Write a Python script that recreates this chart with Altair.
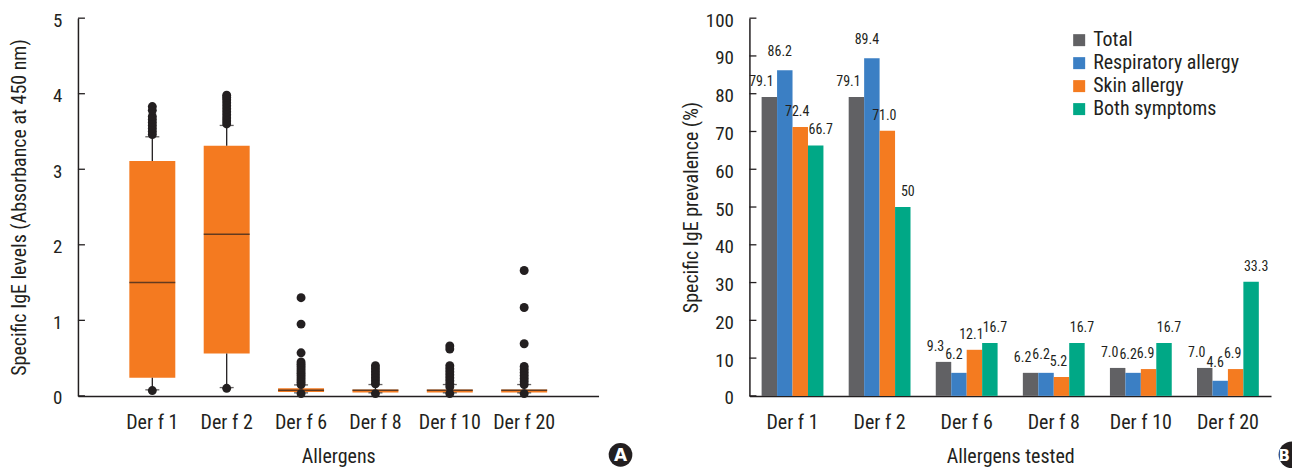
import math
import altair as alt
import pandas as pd

FONT = "'Roboto Condensed', 'Liberation Sans Narrow', 'Roboto', sans-serif"
INK = "#231f20"

allergens = ["Der f 1", "Der f 2", "Der f 6", "Der f 8", "Der f 10", "Der f 20"]

# ---- Panel A: box statistics (absorbance at 450 nm) ----
box_q1 = [0.24, 0.56, 0.05, 0.045, 0.045, 0.045]
box_q3 = [3.11, 3.31, 0.10, 0.085, 0.085, 0.085]
box_median = [1.50, 2.14, 0.075, 0.075, 0.075, 0.075]
whisker_low = [0.08, 0.11, 0.04, 0.04, 0.04, 0.04]
whisker_high = [3.43, 3.58, 0.145, 0.15, 0.15, 0.15]

out_f1 = [0.07, 3.46, 3.50, 3.54, 3.58, 3.62, 3.66, 3.70, 3.78, 3.83]
out_f2 = [0.10, 3.60, 3.64, 3.68, 3.72, 3.76, 3.80, 3.84, 3.88, 3.92, 3.95, 3.98]
out_f6 = [1.30, 0.95, 0.57, 0.45, 0.42, 0.39, 0.36, 0.33, 0.30, 0.27, 0.24, 0.21, 0.18, 0.15, 0.03]
out_f8 = [0.40, 0.36, 0.32, 0.28, 0.24, 0.20, 0.16, 0.03]
out_f10 = [0.66, 0.62, 0.40, 0.36, 0.32, 0.28, 0.24, 0.20, 0.16, 0.12, 0.03]
out_f20 = [1.66, 1.17, 0.69, 0.39, 0.35, 0.31, 0.27, 0.23, 0.19, 0.15, 0.03]

a_ticks = [0, 1, 2, 3, 4, 5]

# ---- Panel B: specific IgE prevalence (%) ----
series = ["Total", "Respiratory allergy", "Skin allergy", "Both symptoms"]
series_colors = ["#616164", "#3b7fc4", "#f47b20", "#00a886"]

total_pct = [79.1, 79.1, 9.0, 6.1, 7.4, 7.4]
resp_pct = [86.2, 89.4, 6.1, 6.1, 6.1, 4.0]
skin_pct = [71.2, 70.2, 12.2, 5.0, 7.1, 7.1]
both_pct = [66.3, 50.0, 14.0, 14.0, 14.0, 30.2]

total_lbl = ["79.1", "79.1", "9.3", "6.2", "7.0", "7.0"]
resp_lbl = ["86.2", "89.4", "6.2", "6.2", "6.2", "4.6"]
skin_lbl = ["72.4", "71.0", "12.1", "5.2", "6.9", "6.9"]
both_lbl = ["66.7", "50", "16.7", "16.7", "16.7", "33.3"]

b_ticks = [0, 10, 20, 30, 40, 50, 60, 70, 80, 90, 100]

# ---- tables ----
box_df = pd.DataFrame({
    "allergen": allergens, "q1": box_q1, "q3": box_q3, "med": box_median,
    "lo": whisker_low, "hi": whisker_high,
})
out_lists = [out_f1, out_f2, out_f6, out_f8, out_f10, out_f20]
out_df = pd.DataFrame(
    [{"allergen": a, "v": v} for a, vals in zip(allergens, out_lists) for v in vals]
)
a_tick_df = pd.DataFrame({"v": a_ticks})
b_tick_df = pd.DataFrame({"v": b_ticks})

rows = []
for s, vals, lbls in zip(series, [total_pct, resp_pct, skin_pct, both_pct],
                         [total_lbl, resp_lbl, skin_lbl, both_lbl]):
    for a, v, l in zip(allergens, vals, lbls):
        rows.append({"allergen": a, "series": s, "v": v, "lbl": l})
bar_df = pd.DataFrame(rows)

# ---- Panel A ----
W, H = 521, 378
xa_axis = alt.Axis(title="Allergens", ticks=False, labelPadding=17, labelAngle=0,
                   titleY=67, titleBaseline="alphabetic")
xa_scale = alt.Scale(domain=allergens, paddingInner=0, paddingOuter=0.5)
xa = alt.X("allergen:N", sort=allergens, scale=xa_scale, axis=xa_axis)
ya_scale = alt.Scale(domain=[0, 5], nice=False)
ya_axis = alt.Axis(title="Specific IgE levels (Absorbance at 450 nm)", values=a_ticks,
                   format="d", ticks=False, labelPadding=16, labelOffset=2, titleX=-58,
                   titleBaseline="middle", labelOverlap=False)


def ya(field):
    return alt.Y(field, scale=ya_scale, axis=ya_axis)


boxes = alt.Chart(box_df).mark_bar(size=46, color="#f47a20").encode(
    x=xa, y=ya("q1:Q"), y2="q3:Q")
wl = alt.Chart(box_df).mark_rule(color=INK, strokeWidth=1.3).encode(x=xa, y=ya("lo:Q"), y2="q1:Q")
wh = alt.Chart(box_df).mark_rule(color=INK, strokeWidth=1.3).encode(x=xa, y=ya("q3:Q"), y2="hi:Q")
med = alt.Chart(box_df).mark_tick(size=46, thickness=1.5, color=INK).encode(x=xa, y=ya("med:Q"))
cap_lo = alt.Chart(box_df).mark_tick(size=14, thickness=1.3, color=INK).encode(x=xa, y=ya("lo:Q"))
cap_hi = alt.Chart(box_df).mark_tick(size=14, thickness=1.3, color=INK).encode(x=xa, y=ya("hi:Q"))
pts = alt.Chart(out_df).mark_circle(size=80, color=INK, opacity=1).encode(x=xa, y=ya("v:Q"))
a_in_ticks = alt.Chart(a_tick_df).mark_rule(color=INK, strokeWidth=1.3).encode(
    x=alt.value(0), x2=alt.value(7), y=ya("v:Q"))
badge_a = alt.Chart(pd.DataFrame({"t": ["A"]})).mark_circle(size=560, color=INK, opacity=1).encode(
    x=alt.value(543), y=alt.value(437))
badge_a_t = alt.Chart(pd.DataFrame({"t": ["A"]})).mark_text(
    color="white", fontSize=17, fontWeight="bold", font="DejaVu Sans", baseline="middle").encode(
    x=alt.value(543), y=alt.value(438), text="t:N")

left = alt.layer(boxes, wl, wh, med, cap_lo, cap_hi, pts, a_in_ticks, badge_a, badge_a_t).properties(
    width=W, height=H)

# ---- Panel B ----
xb_scale = alt.Scale(domain=allergens, paddingInner=0.29, paddingOuter=0.14)
xb_axis = alt.Axis(title="Allergens tested", ticks=False, labelPadding=17, labelAngle=0,
                   titleY=67, titleBaseline="alphabetic")
xb = alt.X("allergen:N", sort=allergens, scale=xb_scale, axis=xb_axis)
xo = alt.XOffset("series:N", sort=series, scale=alt.Scale(domain=series, paddingInner=0, paddingOuter=0))
yb_scale = alt.Scale(domain=[0, 100], nice=False)
yb_axis = alt.Axis(title="Specific IgE prevalence (%)", values=b_ticks, format="d", ticks=False,
                   labelPadding=16, labelOffset=2, titleX=-58, titleBaseline="middle",
                   labelOverlap=False)
yb = alt.Y("v:Q", scale=yb_scale, axis=yb_axis)

bars = alt.Chart(bar_df).mark_bar().encode(
    x=xb, xOffset=xo, y=yb,
    color=alt.Color("series:N", sort=series,
                    scale=alt.Scale(domain=series, range=series_colors),
                    legend=alt.Legend(title=None, orient="none", legendX=992, legendY=12,
                                      symbolType="square", symbolSize=144, symbolStrokeWidth=0,
                                      labelFontSize=20, labelOffset=4, rowPadding=3,
                                      labelLimit=400, labelColor=INK)),
)
label_dx = {"Total": -8, "Respiratory allergy": -5, "Skin allergy": -3, "Both symptoms": 5}
label_dy = {"Total": -15, "Respiratory allergy": -18, "Skin allergy": -15, "Both symptoms": -15}
texts = []
for s in series:
    texts.append(
        alt.Chart(bar_df).transform_filter(alt.datum.series == s).mark_text(
            fontSize=14, color=INK, dx=label_dx[s], dy=label_dy[s], baseline="middle").encode(
            x=xb, xOffset=xo, y=yb, text="lbl:N")
    )
b_in_ticks = alt.Chart(b_tick_df).mark_rule(color=INK, strokeWidth=1.3).encode(
    x=alt.value(0), x2=alt.value(7), y=yb)
# badge B sits at the right edge of the figure and is cut there, as in the source
badge_b = alt.Chart(pd.DataFrame({"t": ["B"]})).mark_arc(
    color=INK, theta=math.pi, theta2=2 * math.pi, radius=13.4).encode(
    x=alt.value(543), y=alt.value(437))
badge_b_t = alt.Chart(pd.DataFrame({"t": ["B"]})).mark_text(
    color="white", fontSize=15, fontWeight="bold", font="DejaVu Sans", baseline="middle",
    align="right").encode(x=alt.value(541), y=alt.value(438), text="t:N")

right = alt.layer(bars, *texts, b_in_ticks, badge_b, badge_b_t).properties(width=522, height=H)

chart = alt.hconcat(left, right, spacing=49).properties(
    padding={"left": 2, "top": 3, "right": 0, "bottom": 0}
).configure(font=FONT).configure_view(stroke=None).configure_axis(
    domainColor=INK, domainWidth=1.5, labelColor=INK, titleColor=INK,
    labelFontSize=20, titleFontSize=20, titleFontWeight="normal", grid=False,
    labelFont=FONT, titleFont=FONT,
).configure_axisY(labelFontSize=19).configure_legend(labelFont=FONT)

chart.save("out.html", embed_options={"renderer": "svg", "actions": False})
